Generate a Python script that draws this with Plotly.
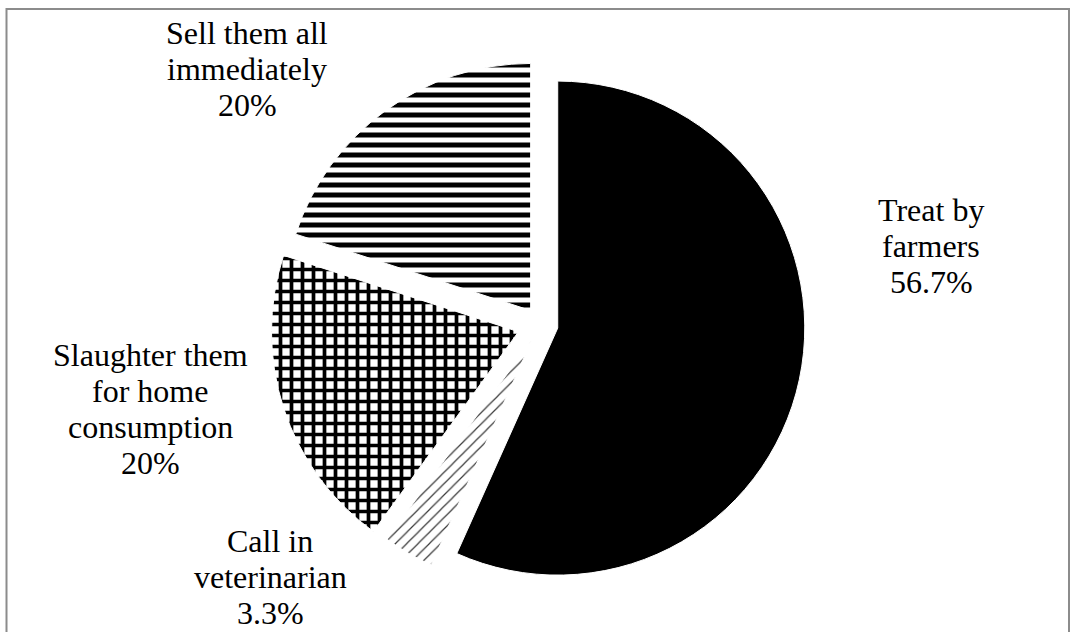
import plotly.graph_objects as go

# Actions taken by farmers with sick animals (share of respondents, %)
labels = ["Treat by farmers", "Call in veterinarian",
          "Slaughter them for home consumption", "Sell them all immediately"]
label_lines = [["Treat by", "farmers"], ["Call in", "veterinarian"],
               ["Slaughter them", "for home", "consumption"],
               ["Sell them all", "immediately"]]
values = [56.7, 3.3, 20, 20]

W, H = 1072, 632

fills = ["black", "white", "white", "white"]
shapes = ["", "/", "+", "-"]
fg = ["black", "#3a3a3a", "black", "black"]
pattern_size = [8, 8, 11, 10]
solidity = [0.5, 0.15, 0.56, 0.5]
pulls = [0.07, 0.07, 0.095, 0.07]

fig = go.Figure(go.Pie(
    labels=labels,
    values=values,
    sort=False,
    direction="clockwise",
    rotation=0,
    pull=pulls,
    textinfo="none",
    hoverinfo="label+percent",
    marker=dict(
        colors=fills,
        line=dict(color="white", width=1),
        pattern=dict(shape=shapes, fgcolor=fg, bgcolor="white", fgopacity=1,
                     size=pattern_size, solidity=solidity, fillmode="overlay"),
    ),
    domain=dict(x=[0.2245, 0.7845], y=[0.0586, 0.9146]),
))

# centre x and first-line y (pixels) of each label block; lines 36 px apart
label_pos = [(931, 210), (270, 541), (150, 355), (247, 33)]
LINE_STEP = 36


def fmt(v):
    return f"{v:g}%"


annotations = []
for lines, v, (px, py) in zip(label_lines, values, label_pos):
    for i, line in enumerate(lines + [fmt(v)]):
        annotations.append(dict(
            text=line,
            x=px / W, y=1 - (py + i * LINE_STEP) / H,
            xref="paper", yref="paper",
            xanchor="center", yanchor="middle", showarrow=False,
            font=dict(family="Liberation Serif", size=32, color="black"),
        ))

fig.update_layout(
    width=W, height=H,
    margin=dict(l=0, r=0, t=0, b=0),
    paper_bgcolor="white",
    plot_bgcolor="white",
    showlegend=False,
    annotations=annotations,
    shapes=[dict(type="rect", xref="paper", yref="paper",
                 x0=6.5 / W, x1=1069 / W, y0=-0.05, y1=1 - 9 / H,
                 line=dict(color="#8c8c8c", width=2), fillcolor="rgba(0,0,0,0)",
                 layer="below")],
)

fig.write_html("out.html")
